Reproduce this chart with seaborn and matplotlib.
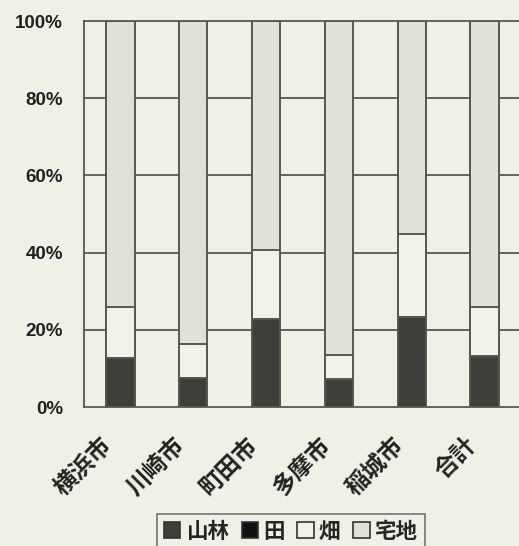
import matplotlib
matplotlib.use("Agg")
import matplotlib.pyplot as plt
import matplotlib.transforms as mtransforms
import seaborn as sns
import pandas as pd
import numpy as np
from matplotlib.patches import Patch

sns.set_theme(style="white")
plt.rcParams['font.family'] = ['Liberation Sans', 'Noto Sans CJK JP', 'DejaVu Sans']
plt.rcParams['font.weight'] = 'bold'

categories = ["横浜市", "川崎市", "町田市", "多摩市", "稲城市", "合計"]
series_names = ["山林", "田", "畑", "宅地"]
sanrin = [12.7, 7.5, 22.8, 7.3, 23.4, 13.2]
ta = [0, 0, 0, 0, 0, 0]
hata = [13.2, 8.8, 17.9, 6.2, 21.4, 12.8]
takuchi = [74.1, 83.7, 59.3, 86.5, 55.2, 74.0]
ytick_labels = ["0%", "20%", "40%", "60%", "80%", "100%"]

df = pd.DataFrame({"市": categories, "山林": sanrin, "田": ta, "畑": hata, "宅地": takuchi})
cum = df[series_names].cumsum(axis=1)
cum["市"] = df["市"]

bg = "#eef1e5"
edge = "#56594f"
colors = {"山林": "#3d3f3b", "田": "#111111", "畑": "#f1f3ea", "宅地": "#dfe2d8"}

fig = plt.figure(figsize=(5.19, 5.46), dpi=100, facecolor=bg)
ax = fig.add_axes([84/519, 139/546, (521-84)/519, (407-21)/546])
ax.set_facecolor(bg)

for y in [20, 40, 60, 80]:
    ax.axhline(y, color=edge, lw=1.3, zorder=0)

for name in reversed(series_names):
    sns.barplot(data=cum, x="市", y=name, color=colors[name], width=0.39,
                edgecolor=edge, linewidth=1.4, saturation=1, ax=ax, zorder=2)

ax.set_ylim(0, 100)
ax.set_xlim(-0.5, 5.5)
ax.set_yticks([0, 20, 40, 60, 80, 100])
ax.set_yticklabels(ytick_labels, fontsize=13.5, fontweight='bold', color="#222222")
ax.set_xticks(range(len(categories)))
ax.set_xticklabels(categories, rotation=45, ha='right', rotation_mode='anchor',
                   fontsize=17, fontweight='bold', color="#222222")
ax.set_xlabel("")
ax.set_ylabel("")
ax.tick_params(axis='y', length=3, color=edge, pad=12)
ax.tick_params(axis='x', length=0, pad=10)
offset = mtransforms.ScaledTranslation(-0.20, -0.13, fig.dpi_scale_trans)
for lbl in ax.get_xticklabels():
    lbl.set_transform(lbl.get_transform() + offset)
for s in ax.spines.values():
    s.set_color(edge)
    s.set_linewidth(1.3)

handles = [Patch(facecolor=colors[n], edgecolor="#333333", linewidth=1.2) for n in series_names]
leg = fig.legend(handles, series_names, loc='center', bbox_to_anchor=(291/519, 14/546),
                 ncol=4, frameon=True, handlelength=0.75, handleheight=0.75,
                 handletextpad=0.25, columnspacing=0.6, borderpad=0.35,
                 prop={'weight': 'bold', 'size': 15.5})
leg.get_frame().set_edgecolor("#555555")
leg.get_frame().set_facecolor(bg)
leg.get_frame().set_linewidth(1.2)
leg.get_frame().set_boxstyle('square', pad=0)

fig.savefig("out.png", dpi=100, facecolor=bg)
